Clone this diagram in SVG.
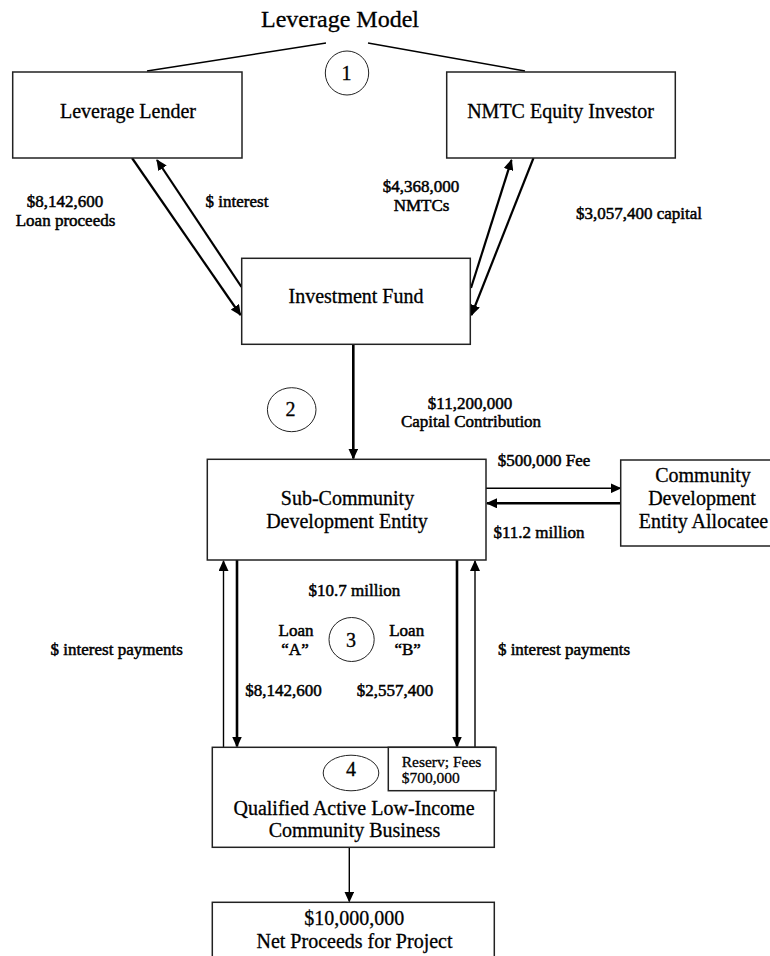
<svg xmlns="http://www.w3.org/2000/svg" width="770" height="956" viewBox="0 0 770 956">
<style>
text{font-family:"Liberation Serif","Times New Roman",serif;fill:#000;text-anchor:middle;stroke:#000;stroke-width:0.3}
.title{font-size:24px}
.box{fill:#fff;stroke:#222;stroke-width:1.5}
.bt{font-size:20px}
.lb{font-size:17px;stroke-width:0.5}
.sm{font-size:15.5px;text-anchor:start}
.circ{fill:none;stroke:#222;stroke-width:1}
.thick{stroke:#000;stroke-width:2.6;fill:none}
.mid{stroke:#000;stroke-width:2.2;fill:none}
.thin{stroke:#000;stroke-width:1.4;fill:none}
</style>
<defs>
<marker id="ah" markerUnits="userSpaceOnUse" markerWidth="11" markerHeight="10" refX="10" refY="5" orient="auto">
<path d="M0,0 L11,5 L0,10 z" fill="#000"/>
</marker>
</defs>
<rect width="770" height="956" fill="#fff"/>
<text class="title" x="340" y="27">Leverage Model</text>

<g id="connectors">
<line class="thin" x1="326" y1="43" x2="147" y2="71"/>
<line class="thin" x1="368" y1="43" x2="525" y2="71"/>
<line class="mid" x1="132" y1="158" x2="240.5" y2="315" marker-end="url(#ah)"/>
<line class="mid" x1="241.5" y1="287" x2="157" y2="160" marker-end="url(#ah)"/>
<line class="mid" x1="471" y1="288" x2="511.5" y2="160" marker-end="url(#ah)"/>
<line class="mid" x1="533.5" y1="158" x2="471.5" y2="315" marker-end="url(#ah)"/>
<line class="thick" x1="353.3" y1="345" x2="353.3" y2="458.5" marker-end="url(#ah)"/>
<line class="thin" x1="486" y1="488.3" x2="620.5" y2="488.3" marker-end="url(#ah)"/>
<line class="thick" x1="621" y1="503.3" x2="487" y2="503.3" marker-end="url(#ah)"/>
<line class="thin" x1="223.5" y1="747" x2="223.5" y2="561" marker-end="url(#ah)"/>
<line class="thick" x1="237" y1="560" x2="237" y2="746.5" marker-end="url(#ah)"/>
<line class="thick" x1="457" y1="560" x2="457" y2="746.5" marker-end="url(#ah)"/>
<line class="thin" x1="475" y1="747" x2="475" y2="561" marker-end="url(#ah)"/>
<line class="thin" x1="349.3" y1="847.3" x2="349.3" y2="901.5" marker-end="url(#ah)"/>
</g>

<g id="lender">
<rect class="box" x="12.7" y="72" width="229.3" height="86"/>
<text class="bt" x="128" y="118">Leverage Lender</text>
</g>
<g id="investor">
<rect class="box" x="446.7" y="72" width="228.6" height="86"/>
<text class="bt" x="560.5" y="118">NMTC Equity Investor</text>
</g>
<g id="step1">
<ellipse class="circ" cx="347" cy="73" rx="21.7" ry="22"/>
<text class="bt" x="346.5" y="79.5">1</text>
</g>
<g id="fund">
<rect class="box" x="241.7" y="258.3" width="228.6" height="86"/>
<text class="bt" x="356" y="303">Investment Fund</text>
</g>
<g id="labels-top">
<text class="lb" x="65" y="207">$8,142,600</text>
<text class="lb" x="65.5" y="226">Loan proceeds</text>
<text class="lb" x="237" y="207">$ interest</text>
<text class="lb" x="421" y="192">$4,368,000</text>
<text class="lb" x="421.5" y="211">NMTCs</text>
<text class="lb" x="639" y="219">$3,057,400 capital</text>
</g>
<g id="step2">
<ellipse class="circ" cx="291.7" cy="409.7" rx="24.3" ry="22"/>
<text class="bt" x="290.5" y="416">2</text>
</g>
<g id="labels-mid">
<text class="lb" x="470" y="409">$11,200,000</text>
<text class="lb" x="471" y="427">Capital Contribution</text>
<text class="lb" x="544" y="466">$500,000 Fee</text>
<text class="lb" x="539" y="538">$11.2 million</text>
</g>
<g id="subcde">
<rect class="box" x="207.3" y="459.3" width="278.7" height="100.7"/>
<text class="bt" x="347.5" y="505">Sub-Community</text>
<text class="bt" x="347" y="528">Development Entity</text>
</g>
<g id="cde">
<rect class="box" x="620.7" y="460" width="152" height="86"/>
<text class="bt" x="703" y="482">Community</text>
<text class="bt" x="702" y="505">Development</text>
<text class="bt" x="703.5" y="528">Entity Allocatee</text>
</g>
<g id="labels-low">
<text class="lb" x="354.4" y="596">$10.7 million</text>
<text class="lb" x="296" y="636">Loan</text>
<text class="lb" x="295" y="655">“A”</text>
<text class="lb" x="406.7" y="636">Loan</text>
<text class="lb" x="407.7" y="655">“B”</text>
<text class="lb" x="116.7" y="655">$ interest payments</text>
<text class="lb" x="564" y="655">$ interest payments</text>
<text class="lb" x="283.4" y="696">$8,142,600</text>
<text class="lb" x="395" y="696">$2,557,400</text>
</g>
<g id="step3">
<ellipse class="circ" cx="351.6" cy="639.5" rx="22.6" ry="22"/>
<text class="bt" x="351" y="647">3</text>
</g>
<g id="qalicb">
<rect class="box" x="212.3" y="747.3" width="282" height="100"/>
<text class="bt" x="354" y="815">Qualified Active Low-Income</text>
<text class="bt" x="354.5" y="837">Community Business</text>
</g>
<g id="step4">
<ellipse class="circ" cx="351" cy="773" rx="27.8" ry="17.8"/>
<text class="bt" x="351" y="776">4</text>
</g>
<g id="reserve">
<rect class="box" x="388.3" y="747.3" width="107.7" height="43.4"/>
<text class="sm" x="401.7" y="767">Reserv; Fees</text>
<text class="sm" x="401.7" y="783">$700,000</text>
</g>
<g id="proceeds">
<rect class="box" x="212.3" y="902.3" width="282" height="60"/>
<text class="bt" x="354.3" y="925">$10,000,000</text>
<text class="bt" x="354.5" y="948">Net Proceeds for Project</text>
</g>
</svg>
